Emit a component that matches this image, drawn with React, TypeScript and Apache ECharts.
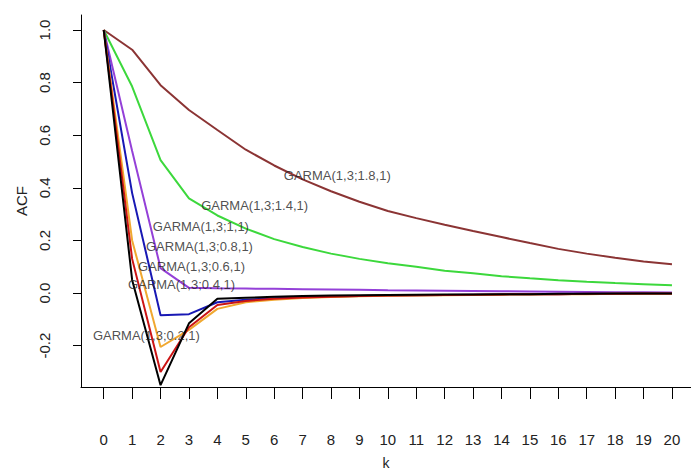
import React, { useEffect, useRef } from "react";
import * as echarts from "echarts";

const lags = [0, 1, 2, 3, 4, 5, 6, 7, 8, 9, 10, 11, 12, 13, 14, 15, 16, 17, 18, 19, 20];

const acf18 = [1, 0.925, 0.79, 0.696, 0.62, 0.545, 0.485, 0.432, 0.387, 0.347, 0.312, 0.285, 0.26, 0.236, 0.213, 0.19, 0.168, 0.15, 0.134, 0.12, 0.11];
const acf14 = [1, 0.785, 0.505, 0.36, 0.295, 0.245, 0.205, 0.175, 0.15, 0.13, 0.113, 0.1, 0.085, 0.075, 0.064, 0.056, 0.049, 0.043, 0.038, 0.034, 0.03];
const acf10 = [1, 0.54, 0.095, 0.02, 0.018, 0.017, 0.016, 0.015, 0.014, 0.013, 0.011, 0.01, 0.009, 0.008, 0.007, 0.006, 0.005, 0.004, 0.003, 0.003, 0.002];
const acf08 = [1, 0.38, -0.084, -0.08, -0.035, -0.025, -0.02, -0.016, -0.013, -0.011, -0.009, -0.008, -0.007, -0.006, -0.005, -0.004, -0.004, -0.003, -0.003, -0.002, -0.002];
const acf06 = [1, 0.2, -0.205, -0.14, -0.06, -0.035, -0.025, -0.019, -0.015, -0.012, -0.01, -0.009, -0.008, -0.007, -0.006, -0.005, -0.004, -0.004, -0.003, -0.003, -0.003];
const acf04 = [1, 0.13, -0.3, -0.13, -0.045, -0.03, -0.022, -0.017, -0.014, -0.011, -0.009, -0.008, -0.007, -0.006, -0.005, -0.004, -0.004, -0.003, -0.003, -0.002, -0.002];
const acf02 = [1, 0.05, -0.35, -0.115, -0.022, -0.018, -0.014, -0.011, -0.009, -0.008, -0.007, -0.006, -0.005, -0.005, -0.004, -0.004, -0.003, -0.003, -0.002, -0.002, -0.002];

const seriesNames = ["GARMA(1,3;1.8,1)", "GARMA(1,3;1.4,1)", "GARMA(1,3;1,1)", "GARMA(1,3;0.8,1)", "GARMA(1,3;0.6,1)", "GARMA(1,3;0.4,1)", "GARMA(1,3;0.2,1)"];
const seriesValues = [acf18, acf14, acf10, acf08, acf06, acf04, acf02];
const seriesColors = ["#8B3434", "#3CD83C", "#9440D8", "#1818B4", "#F0A830", "#CC1414", "#000000"];

// annotation anchors in data coordinates (k, ACF)
const labelK = [8.22, 5.31, 3.42, 3.37, 3.09, 2.74, 1.5];
const labelAcf = [0.448, 0.334, 0.252, 0.176, 0.1, 0.033, -0.16];

const xTicks = lags;
const yTicks = [-0.2, 0, 0.2, 0.4, 0.6, 0.8, 1.0];

const FONT = "'Liberation Sans', Arial, sans-serif";

export default function App() {
  const ref = useRef<HTMLDivElement>(null);
  useEffect(() => {
    if (!ref.current) return;
    const chart = echarts.init(ref.current, undefined, { renderer: "svg" });
    const lineSeries = seriesValues.map((vals, i) => ({
      type: "line",
      name: seriesNames[i],
      data: lags.map((k, j) => [k, vals[j]]),
      showSymbol: false,
      symbol: "none",
      lineStyle: { color: seriesColors[i], width: 2 },
      itemStyle: { color: seriesColors[i] },
      z: 2 + i,
    }));
    const labelSeries = {
      type: "scatter",
      symbolSize: 0,
      z: 20,
      clip: false,
      data: seriesNames.map((n, i) => ({ value: [labelK[i], labelAcf[i]], name: n })),
      label: {
        show: true,
        position: "inside",
        formatter: (p: any) => p.name,
        color: "#222",
        fontSize: 13,
        fontFamily: FONT,
      },
    };
    chart.setOption({
      animation: false,
      backgroundColor: "#ffffff",
      grid: { left: 81, right: 0, top: 15, bottom: 87, outerBoundsMode: "none", containLabel: false },
      xAxis: {
        type: "value",
        min: -0.8,
        max: 20.67,
        name: "k",
        nameLocation: "middle",
        nameGap: 69,
        nameTextStyle: { color: "#222222", fontSize: 14, fontFamily: FONT },
        axisLine: { show: true, onZero: false, lineStyle: { color: "#000", width: 1 } },
        axisTick: { show: true, customValues: xTicks, length: 12, lineStyle: { color: "#000" } },
        axisLabel: {
          show: true,
          customValues: xTicks,
          margin: 45,
          color: "#222",
          fontSize: 15,
          fontFamily: FONT,
        },
        splitLine: { show: false },
      },
      yAxis: {
        type: "value",
        min: -0.357,
        max: 1.057,
        name: "ACF",
        nameLocation: "middle",
        nameGap: 52,
        nameRotate: 90,
        nameTextStyle: { color: "#222222", fontSize: 15, fontFamily: FONT },
        axisLine: { show: true, onZero: false, lineStyle: { color: "#000", width: 1 } },
        axisTick: { show: true, customValues: yTicks, length: 8, lineStyle: { color: "#000" } },
        axisLabel: {
          show: true,
          customValues: yTicks,
          rotate: 90,
          margin: 29,
          formatter: (v: number) => v.toFixed(1),
          color: "#222",
          fontSize: 15,
          fontFamily: FONT,
        },
        splitLine: { show: false },
      },
      series: [...lineSeries, labelSeries],
    });
    return () => chart.dispose();
  }, []);
  return (
    <div
      ref={ref}
      style={{ position: "fixed", left: 0, top: 0, width: 691, height: 474, background: "#fff" }}
    />
  );
}
